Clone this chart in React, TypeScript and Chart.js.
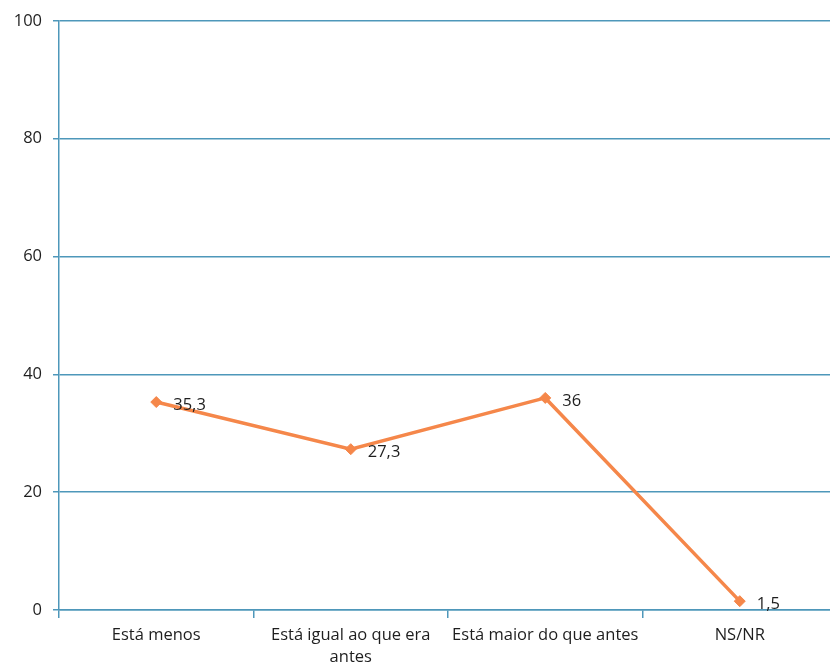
import React, { useEffect, useRef } from "react";
import { Chart, registerables } from "chart.js";

Chart.register(...registerables);

const categories: (string | string[])[] = [
  "Está menos",
  ["Está igual ao que era", "antes"],
  "Está maior do que antes",
  "NS/NR",
];
const values: number[] = [35.3, 27.3, 36, 1.5];
const valueLabels: string[] = ["35,3", "27,3", "36", "1,5"];

const ORANGE = "#F5874A";
const BLUE = "#4E97BA";
const FONT = "'Open Sans', 'Liberation Sans', sans-serif";

const valueLabelPlugin = {
  id: "valueLabels",
  afterDatasetsDraw(chart: any) {
    const ctx = chart.ctx;
    const meta = chart.getDatasetMeta(0);
    ctx.save();
    ctx.font = `16.5px ${FONT}`;
    ctx.fillStyle = "#1e1e1e";
    ctx.textAlign = "left";
    ctx.textBaseline = "middle";
    meta.data.forEach((pt: any, i: number) => {
      ctx.fillText(valueLabels[i], pt.x + 17, pt.y + 3);
    });
    ctx.restore();
  },
};

export default function App() {
  const ref = useRef<HTMLCanvasElement>(null);

  useEffect(() => {
    if (!ref.current) return;
    const chart = new Chart(ref.current, {
      type: "line",
      data: {
        labels: categories,
        datasets: [
          {
            data: values,
            borderColor: ORANGE,
            backgroundColor: ORANGE,
            borderWidth: 3.5,
            pointStyle: "rectRot",
            pointRadius: 5.5,
            pointBorderWidth: 1,
            tension: 0,
          },
        ],
      },
      options: {
        responsive: false,
        animation: false,
        layout: { padding: { top: 19, right: 13, left: 0, bottom: 0 } },
        plugins: { legend: { display: false }, tooltip: { enabled: false } },
        scales: {
          x: {
            offset: true,
            grid: {
              offset: true,
              drawOnChartArea: false,
              drawTicks: true,
              tickLength: 8,
              color: BLUE,
              lineWidth: 1.5,
            },
            border: { color: BLUE, width: 1.5 },
            ticks: {
              color: "#1e1e1e",
              font: { family: FONT, size: 16.5, lineHeight: 1.35 },
              padding: 6,
              maxRotation: 0,
              autoSkip: false,
            },
            afterFit(scale: any) {
              scale.height = 58;
            },
          },
          y: {
            min: 0,
            max: 100,
            ticks: {
              stepSize: 20,
              color: "#1e1e1e",
              font: { family: FONT, size: 16.5 },
              padding: 11,
            },
            grid: { color: BLUE, tickLength: 6, lineWidth: 1.5 },
            border: { color: BLUE, width: 1.5 },
            afterFit(scale: any) {
              scale.width = 59;
            },
          },
        },
      },
      plugins: [valueLabelPlugin],
    });
    return () => chart.destroy();
  }, []);

  return (
    <div
      style={{
        position: "fixed",
        left: 0,
        top: 0,
        width: 830,
        height: 668,
        overflow: "hidden",
        background: "#fff",
      }}
    >
      <canvas ref={ref} width={850} height={668} style={{ display: "block" }} />
    </div>
  );
}
